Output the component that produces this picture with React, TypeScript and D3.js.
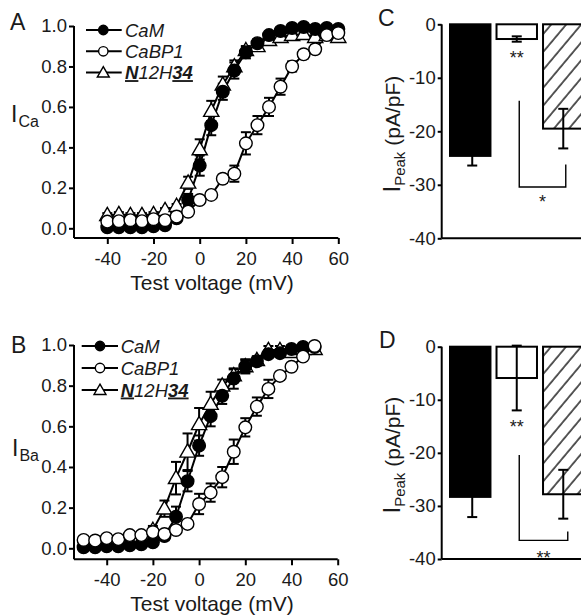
import React, { useEffect, useRef } from 'react';
import * as d3 from 'd3';

const FONT = '"Liberation Sans", Arial, Helvetica, sans-serif';

// Panel A: I-V relations, Ca2+ current
const voltA = [-40, -35, -30, -25, -20, -15, -10, -5, 0, 5, 10, 15, 20, 25, 30, 35, 40, 45, 50, 55, 60];
const camA = [0.005, 0.005, 0.005, 0.005, 0.01, 0.015, 0.05, 0.14, 0.31, 0.51, 0.675, 0.78, 0.87, 0.915, 0.955, 0.975, 0.99, 0.995, 0.985, 0.99, 0.985];
const camAErr = [0.01, 0.01, 0.01, 0.01, 0.01, 0.01, 0.01, 0.03, 0.05, 0.05, 0.04, 0.04, 0.03, 0.02, 0.01, 0.01, 0.01, 0.01, 0.01, 0.01, 0.01];
const cabpA = [0.033, 0.035, 0.04, 0.035, 0.045, 0.04, 0.058, 0.082, 0.14, 0.165, 0.245, 0.27, 0.42, 0.51, 0.6, 0.7, 0.8, 0.86, 0.885, 0.955, 0.965];
const cabpAErr = [0.01, 0.01, 0.01, 0.01, 0.01, 0.01, 0.01, 0.01, 0.01, 0.015, 0.02, 0.04, 0.055, 0.045, 0.045, 0.04, 0.025, 0.02, 0.02, 0.01, 0.01];
const chimA = [0.065, 0.07, 0.065, 0.065, 0.07, 0.09, 0.11, 0.225, 0.39, 0.58, 0.71, 0.8, 0.88, 0.9, 0.93, 0.945, 0.955, 0.96, 0.945, 0.955, 0.945];
const chimAErr = [0.01, 0.01, 0.01, 0.01, 0.01, 0.01, 0.01, 0.03, 0.05, 0.05, 0.04, 0.03, 0.02, 0.01, 0.01, 0.01, 0.01, 0.01, 0.01, 0.01, 0.01];

// Panel B: I-V relations, Ba2+ current
const voltB = [-50, -45, -40, -35, -30, -25, -20, -15, -10, -5, 0, 5, 10, 15, 20, 25, 30, 35, 40, 45, 50];
const camB = [0.005, 0.005, 0.01, 0.01, 0.015, 0.02, 0.03, 0.06, 0.155, 0.33, 0.505, 0.65, 0.75, 0.835, 0.895, 0.92, 0.955, 0.96, 0.98, 0.99, 0.99];
const camBErr = [0.01, 0.01, 0.01, 0.01, 0.01, 0.01, 0.01, 0.02, 0.05, 0.05, 0.05, 0.05, 0.04, 0.05, 0.035, 0.02, 0.01, 0.01, 0.01, 0.01, 0.01];
const cabpB = [0.041, 0.038, 0.05, 0.045, 0.065, 0.065, 0.08, 0.07, 0.09, 0.12, 0.218, 0.274, 0.35, 0.475, 0.595, 0.697, 0.784, 0.848, 0.893, 0.943, 0.995];
const cabpBErr = [0.01, 0.01, 0.01, 0.01, 0.01, 0.01, 0.01, 0.01, 0.01, 0.01, 0.05, 0.045, 0.05, 0.06, 0.045, 0.045, 0.045, 0.02, 0.015, 0.01, 0.01];
const voltBChim = [-20, -15, -10, -5, 0, 5, 10, 15, 20, 25, 30, 35, 40, 45, 50];
const chimB = [0.09, 0.195, 0.345, 0.475, 0.61, 0.71, 0.8, 0.85, 0.895, 0.925, 0.975, 0.975, 0.965, 0.98, 0.98];
const chimBErr = [0.02, 0.04, 0.08, 0.09, 0.08, 0.06, 0.03, 0.03, 0.03, 0.02, 0.02, 0.02, 0.02, 0.02, 0.02];

const voltTicks = [-40, -20, 0, 20, 40, 60];
const normTicks = [0, 0.2, 0.4, 0.6, 0.8, 1.0];

// Panels C/D: peak current densities
const barGroups = ['CaM', 'CaBP1', 'N12H34'];
const peakC = [-24.6, -2.75, -19.5];
const peakCErr = [1.8, 0.5, 3.7];
const peakD = [-28.3, -5.9, -27.8];
const peakDErr = [3.8, 6.1, 4.6];
const peakTicks = [0, -10, -20, -30, -40];
// bracket: left top, right top, bottom (pA/pF)
const bracketC = [-14.3, -26.2, -30.4];
const bracketD = [-20.4, -34.8, -36.5];

const INK = '#1a1a1a';

const drawIV = (svg, cfg) => {
  const g = svg.append('g');
  const x = d3.scaleLinear().domain([-40, 60]).range(cfg.xRange);
  const y = d3.scaleLinear().domain([0, 1]).range(cfg.yRange);
  const axisX = cfg.axisX;
  const axisY = cfg.axisY;

  // axes
  g.append('line').attr('x1', axisX).attr('x2', axisX).attr('y1', y(1)).attr('y2', axisY)
    .attr('stroke', '#000').attr('stroke-width', 2);
  g.append('line').attr('x1', axisX).attr('x2', x(60)).attr('y1', axisY).attr('y2', axisY)
    .attr('stroke', '#000').attr('stroke-width', 2);

  const yAxis = g.append('g').attr('transform', `translate(${axisX},0)`)
    .call(d3.axisLeft(y).tickValues(normTicks).tickFormat(d3.format('.1f')).tickSize(5).tickPadding(2).tickSizeOuter(0));
  const xAxis = g.append('g').attr('transform', `translate(0,${axisY})`)
    .call(d3.axisBottom(x).tickValues(voltTicks).tickFormat(d => String(d)).tickSize(6).tickPadding(8).tickSizeOuter(0));
  [yAxis, xAxis].forEach(a => {
    a.select('.domain').remove();
    a.selectAll('line').attr('stroke-width', 2);
    a.selectAll('text').attr('font-family', FONT).attr('font-size', 18.5).attr('fill', INK);
    a.attr('font-family', null).attr('font-size', null);
  });

  g.append('text').attr('x', 212).attr('y', axisY + 52).attr('text-anchor', 'middle')
    .attr('font-family', FONT).attr('font-size', 21).attr('fill', INK).text('Test voltage (mV)');

  // y label
  const yl = g.append('text').attr('x', cfg.yLabel[0]).attr('y', cfg.yLabel[1])
    .attr('font-family', FONT).attr('font-size', 23).attr('fill', INK);
  yl.append('tspan').text('I');
  yl.append('tspan').attr('font-size', 16).attr('dy', 5).attr('dx', 1).text(cfg.sub);

  g.append('text').attr('x', cfg.letter[0]).attr('y', cfg.letter[1])
    .attr('font-family', FONT).attr('font-size', 23).attr('fill', INK).text(cfg.name);

  const line = d3.line().x(d => x(d[0])).y(d => y(d[1]));

  // lines and error bars first
  cfg.series.forEach(s => {
    const pts = s.v.map((v, i) => [v, s.y[i], s.e[i]]);
    g.append('path').attr('d', line(pts)).attr('fill', 'none').attr('stroke', '#000').attr('stroke-width', 2);
    const eb = g.append('g').attr('stroke', '#000').attr('stroke-width', 2);
    pts.forEach(p => {
      const cx = x(p[0]);
      const y0 = y(p[1] - p[2]);
      const y1 = y(p[1] + p[2]);
      eb.append('line').attr('x1', cx).attr('x2', cx).attr('y1', y0).attr('y2', y1);
      eb.append('line').attr('x1', cx - 5).attr('x2', cx + 5).attr('y1', y0).attr('y2', y0);
      eb.append('line').attr('x1', cx - 5).attr('x2', cx + 5).attr('y1', y1).attr('y2', y1);
    });
  });

  const marker = (sel, type, cx, cy, big) => {
    if (type === 'tri') {
      sel.append('path').attr('d', d3.symbol(d3.symbolTriangle, big ? 100 : 62)())
        .attr('transform', `translate(${cx},${cy + 1})`)
        .attr('fill', '#fff').attr('stroke', '#000').attr('stroke-width', 1.4);
    } else {
      sel.append('circle').attr('cx', cx).attr('cy', cy).attr('r', big ? 6.3 : 4.7)
        .attr('fill', type === 'filled' ? '#000' : '#fff').attr('stroke', '#000').attr('stroke-width', 1.4);
    }
  };

  cfg.series.forEach(s => {
    const mg = g.append('g');
    s.v.forEach((v, i) => marker(mg, s.type, x(v), y(s.y[i]), true));
  });

  // legend
  const lg = g.append('g');
  cfg.legendOrder.forEach((s, i) => {
    const ly = cfg.legend.y + i * cfg.legend.dy;
    lg.append('line').attr('x1', cfg.legend.x1).attr('x2', cfg.legend.x2).attr('y1', ly).attr('y2', ly)
      .attr('stroke', '#000').attr('stroke-width', 2);
    marker(lg, s.type, cfg.legend.mx, ly, false);
    const t = lg.append('text').attr('x', cfg.legend.tx).attr('y', ly + 6.5)
      .attr('font-family', FONT).attr('font-size', 18.5).attr('font-style', 'italic').attr('fill', INK);
    if (s.label === 'N12H34') {
      t.append('tspan').attr('font-weight', 'bold').style('text-decoration', 'underline').text('N');
      t.append('tspan').text('12H');
      t.append('tspan').attr('font-weight', 'bold').style('text-decoration', 'underline').text('34');
    } else {
      t.text(s.label);
    }
  });
};

const drawBars = (svg, cfg) => {
  const g = svg.append('g');
  const axisX = 441.7;
  const y = d3.scaleLinear().domain([0, -40]).range(cfg.yRange);
  const xb = d3.scaleBand().domain(barGroups).range([450, 583.5]).paddingInner(0.13).paddingOuter(0);
  const fills = ['#000', '#fff', 'url(#hatch)'];

  g.selectAll('rect.bar').data(cfg.values).enter().append('rect')
    .attr('class', 'bar')
    .attr('x', (d, i) => xb(barGroups[i]))
    .attr('width', xb.bandwidth())
    .attr('y', y(0))
    .attr('height', d => y(d) - y(0))
    .attr('fill', (d, i) => fills[i])
    .attr('stroke', '#000').attr('stroke-width', 2);

  const eb = g.append('g').attr('stroke', '#000').attr('stroke-width', 2);
  cfg.values.forEach((v, i) => {
    const cx = xb(barGroups[i]) + xb.bandwidth() / 2 + (i === 0 ? 2 : 0);
    const y0 = y(v - cfg.errs[i]);
    const y1 = y(v + cfg.errs[i]);
    eb.append('line').attr('x1', cx).attr('x2', cx).attr('y1', y0).attr('y2', y1);
    eb.append('line').attr('x1', cx - 5).attr('x2', cx + 5).attr('y1', y0).attr('y2', y0);
    eb.append('line').attr('x1', cx - 5).attr('x2', cx + 5).attr('y1', y1).attr('y2', y1);
  });

  // axes
  g.append('line').attr('x1', axisX).attr('x2', axisX).attr('y1', y(0)).attr('y2', y(-40))
    .attr('stroke', '#000').attr('stroke-width', 2);
  g.append('line').attr('x1', axisX).attr('x2', 600).attr('y1', y(-40)).attr('y2', y(-40))
    .attr('stroke', '#000').attr('stroke-width', 2);
  const ya = g.append('g').attr('transform', `translate(${axisX},0)`)
    .call(d3.axisLeft(y).tickValues(peakTicks).tickFormat(d => String(d)).tickSize(4).tickPadding(2).tickSizeOuter(0));
  ya.select('.domain').remove();
  ya.selectAll('line').attr('stroke-width', 2);
  ya.selectAll('text').attr('font-family', FONT).attr('font-size', 18.5).attr('fill', INK);

  // y label
  const yl = g.append('text')
    .attr('transform', `translate(${cfg.yLabel[0]},${cfg.yLabel[1]}) rotate(-90)`)
    .attr('text-anchor', 'middle').attr('font-family', FONT).attr('font-size', 21).attr('fill', INK);
  yl.append('tspan').attr('font-size', 23).text('I');
  yl.append('tspan').attr('font-size', 15).attr('dy', 5).text('Peak');
  yl.append('tspan').attr('dy', -5).text(' (pA/pF)');

  g.append('text').attr('x', cfg.letter[0]).attr('y', cfg.letter[1])
    .attr('font-family', FONT).attr('font-size', 23).attr('fill', INK).text(cfg.name);

  // significance
  const lx = xb('CaBP1') + xb.bandwidth() / 2 + 2.5;
  const rx = xb('N12H34') + xb.bandwidth() / 2 + cfg.rightShift;
  g.append('path')
    .attr('d', `M${lx},${y(cfg.bracket[0])}V${y(cfg.bracket[2])}H${rx}V${y(cfg.bracket[1])}`)
    .attr('fill', 'none').attr('stroke', '#000').attr('stroke-width', 1.4);
  g.append('text').attr('x', (lx + rx) / 2).attr('y', cfg.bracketStarY)
    .attr('text-anchor', 'middle').attr('font-family', FONT).attr('font-size', 18).attr('fill', INK)
    .text(cfg.bracketStar);
  g.append('text').attr('x', xb('CaBP1') + xb.bandwidth() / 2).attr('y', cfg.starY)
    .attr('text-anchor', 'middle').attr('font-family', FONT).attr('font-size', 18).attr('fill', INK)
    .text('**');
};

const App = () => {
  const svgRef = useRef(null);

  useEffect(() => {
    const svg = d3.select(svgRef.current);
    svg.selectAll('*').remove();

    const pat = svg.append('defs').append('pattern')
      .attr('id', 'hatch').attr('patternUnits', 'userSpaceOnUse')
      .attr('width', 11.5).attr('height', 11.5).attr('patternTransform', 'rotate(40)');
    pat.append('rect').attr('width', 11.5).attr('height', 11.5).attr('fill', '#fff');
    pat.append('line').attr('x1', 1).attr('x2', 1).attr('y1', 0).attr('y2', 11.5)
      .attr('stroke', '#000').attr('stroke-width', 1.3);

    const cam = { type: 'filled', label: 'CaM' };
    const cabp = { type: 'open', label: 'CaBP1' };
    const chim = { type: 'tri', label: 'N12H34' };

    drawIV(svg, {
      name: 'A', letter: [10, 30], sub: 'Ca', yLabel: [11, 122],
      xRange: [107.3, 338.3], yRange: [228.3, 26], axisX: 74, axisY: 238,
      series: [
        { ...chim, v: voltA, y: chimA, e: chimAErr },
        { ...cam, v: voltA, y: camA, e: camAErr },
        { ...cabp, v: voltA, y: cabpA, e: cabpAErr }
      ],
      legendOrder: [cam, cabp, chim],
      legend: { y: 30, dy: 21.3, x1: 86, x2: 121.7, mx: 103.3, tx: 125 }
    });

    drawIV(svg, {
      name: 'B', letter: [11, 353], sub: 'Ba', yLabel: [12, 456],
      xRange: [106.7, 337.7], yRange: [548.3, 345], axisX: 74, axisY: 559.3,
      series: [
        { ...chim, v: voltBChim, y: chimB, e: chimBErr },
        { ...cam, v: voltB, y: camB, e: camBErr },
        { ...cabp, v: voltB, y: cabpB, e: cabpBErr }
      ],
      legendOrder: [cam, cabp, chim],
      legend: { y: 346, dy: 22, x1: 81.7, x2: 118, mx: 100, tx: 120.7 }
    });

    drawBars(svg, {
      name: 'C', letter: [378, 26], yRange: [24.3, 238.3], yLabel: [400, 134],
      values: peakC, errs: peakCErr, bracket: bracketC, rightShift: 2.5,
      bracketStar: '*', bracketStarY: 208, starY: 64
    });

    drawBars(svg, {
      name: 'D', letter: [379, 348], yRange: [346.7, 559], yLabel: [400, 455],
      values: peakD, errs: peakDErr, bracket: bracketD, rightShift: 4.5,
      bracketStar: '**', bracketStarY: 564, starY: 433
    });
  }, []);

  return (
    <svg ref={svgRef} width={581} height={616}
      style={{ position: 'absolute', left: 0, top: 0, background: '#fff' }} />
  );
};

export default App;
